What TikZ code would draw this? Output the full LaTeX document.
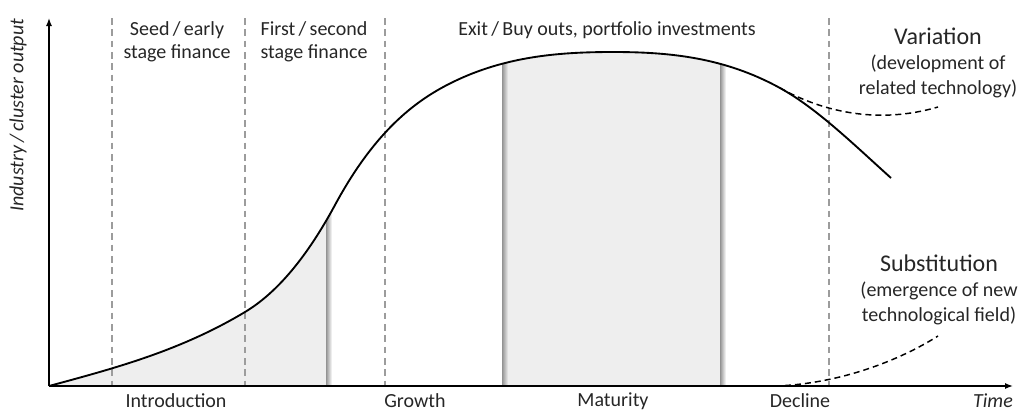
\documentclass[tikz,border=0pt]{standalone}
\usepackage{fontspec}
\setmainfont{Carlito}
\usetikzlibrary{arrows.meta}
\definecolor{shadegray}{HTML}{EEEEEE}
\definecolor{dashgray}{HTML}{9C9C9C}
\definecolor{textgray}{HTML}{262626}
\newcommand\lifecurve{(49,386) .. controls (114,368.4) and (180,351) .. (245,312)
	.. controls (275,294) and (305,260.5) .. (335,205)
	.. controls (372,136.5) and (410,104.2) .. (447,85)
	.. controls (502,56.4) and (558,52) .. (613,52)
	.. controls (669,52) and (724,57.2) .. (780,88)
	.. controls (817,108.4) and (854,144.7) .. (891,178)}

\begin{document}
\begin{tikzpicture}[x=0.75pt, y=-0.75pt,
	every node/.style={font=\fontsize{15}{17.3}\selectfont, text=textgray},
	axis/.style={line width=1pt, -{Latex[length=6pt,width=4.5pt]}},
	stageline/.style={dashgray, line width=1.1pt, dash pattern=on 5pt off 3.5pt},
	branch/.style={line width=1.1pt, dash pattern=on 4.5pt off 3pt}]
	\useasboundingbox (0,0) rectangle (1025,412);
	\coordinate (o) at (49,386);
	\coordinate (ytop) at (49,18);
	\coordinate (xend) at (1013,386);
	% shaded phases under the curve
	\begin{scope}
		\clip \lifecurve -- (891,386) -- (49,386) -- cycle;
		\fill[shadegray] (49,0) rectangle (326,386);
		\fill[shadegray] (502,0) rectangle (720,386);
		\foreach \x/\c in {326/white, 502/shadegray, 720/white} {\shade[left color=gray!85, right color=\c] (\x,0) rectangle ++(6,386);}
	\end{scope}
	\foreach \x in {112,245,385,829} {\draw[stageline] (\x,18) -- (\x,386);}
	\draw[axis] (o) -- (ytop);
	\draw[axis] (o) -- (xend);
	\draw[line width=1.4pt] \lifecurve;
	\draw[branch] (780,88) .. controls (825,113) and (880,124) .. (938,107);
	\draw[branch] (775,386) .. controls (840,384) and (900,360) .. (938,336);
	\node[align=center] (seed) at (177,42) {Seed\,/\,early\\stage finance};
	\node[align=center] (first) at (314,42) {First\,/\,second\\stage finance};
	\node (exit) at (607,30) {Exit\,/\,Buy outs, portfolio investments};
	\node[align=center, font=\fontsize{15}{18.5}\selectfont] (var) at (938,63) {{\fontsize{18}{20}\selectfont Variation}\\(development of\\related technology)};
	\node[align=center, font=\fontsize{15}{18.5}\selectfont] (subst) at (939,290) {{\fontsize{18}{20}\selectfont Substitution}\\(emergence of new\\technological field)};
	\node[inner sep=1pt] (intro) at (176,401) {Introduction};
	\node[inner sep=1pt] (growth) at (415,401) {Growth};
	\node[inner sep=1pt] (mat) at (613,401) {Maturity};
	\node[inner sep=1pt] (decl) at (800,401) {Decline};
	\node[inner sep=1pt, font=\fontsize{15}{17}\selectfont\itshape] (time) at (993,401) {Time};
	\node[rotate=90, anchor=east, font=\fontsize{15}{17}\selectfont\itshape] (ylab) at (18,14) {Industry\,/\,cluster output};
\end{tikzpicture}
\end{document}
